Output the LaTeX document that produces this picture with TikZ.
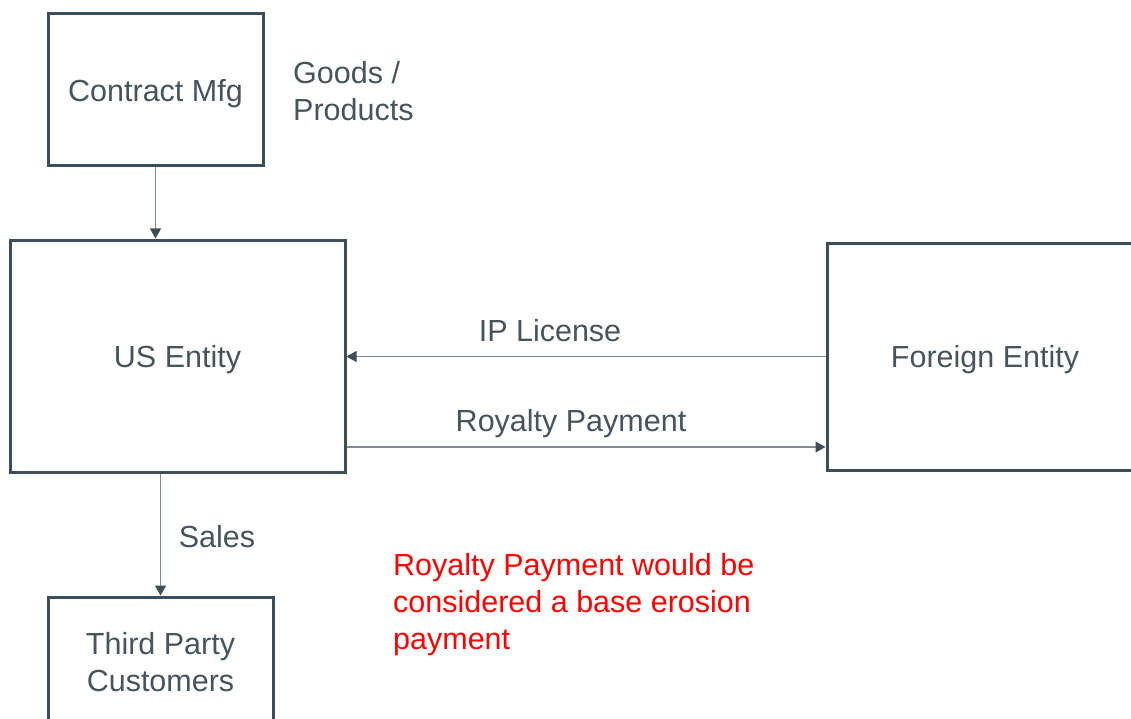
\documentclass[tikz,border=0pt]{standalone}
\usepackage{fontspec}
\setmainfont{Liberation Sans}
\usetikzlibrary{arrows.meta,calc}
\definecolor{boxc}{RGB}{62,78,88}
\definecolor{txtc}{RGB}{70,84,94}
\definecolor{linec}{RGB}{128,140,148}
\definecolor{redc}{RGB}{255,0,0}
\begin{document}
\begin{tikzpicture}[x=1pt,y=-1pt,
  box/.style={draw=boxc,line width=3pt,rectangle,text=txtc,align=center,inner sep=0pt,
    font=\fontsize{30.5}{37}\selectfont},
  onel/.style={text depth=0pt},
  lbl/.style={text=txtc,inner sep=0pt,font=\fontsize{30.5}{37}\selectfont},
  arr/.style={draw=linec,line width=1.3pt,-{Triangle[width=11pt,length=10pt,color=boxc,fill=boxc]}}]
\useasboundingbox (0,0) rectangle (1131,719);
\clip (0,0) rectangle (1131,719);
\node[box,onel,minimum width=215pt,minimum height=152pt] (cm) at (155.5,90) {Contract Mfg};
\node[box,onel,minimum width=335pt,minimum height=232pt] (us) at (177.5,356) {US Entity};
\node[box,onel,minimum width=316pt,minimum height=227pt] (fe) at (985,356.5) {Foreign Entity};
\node[box,minimum width=225pt,minimum height=130pt] (tp) at (160.5,662) {Third Party\\Customers};
\node[lbl,anchor=north west,align=left] (gp) at (293,61) {Goods /\\Products};
\draw[arr] (cm.south) -- (us.north -| cm.south);
\draw[arr] (us.south -| tp.north) -- (tp.north);
\draw[arr] (fe.west) -- (fe.west -| us.east);
\coordinate (r1) at ($(us.east)+(0,91)$);
\draw[arr] (r1) -- (r1 -| fe.west);
\node[lbl] (ipl) at (550,331) {IP License};
\node[lbl] (rp) at (571,424) {Royalty Payment};
\node[lbl] (sl) at (217,537) {Sales};
\node[lbl,text=redc,anchor=north west,align=left] (note) at (393,553) {Royalty Payment would be\\considered a base erosion\\payment};
\end{tikzpicture}
\end{document}
